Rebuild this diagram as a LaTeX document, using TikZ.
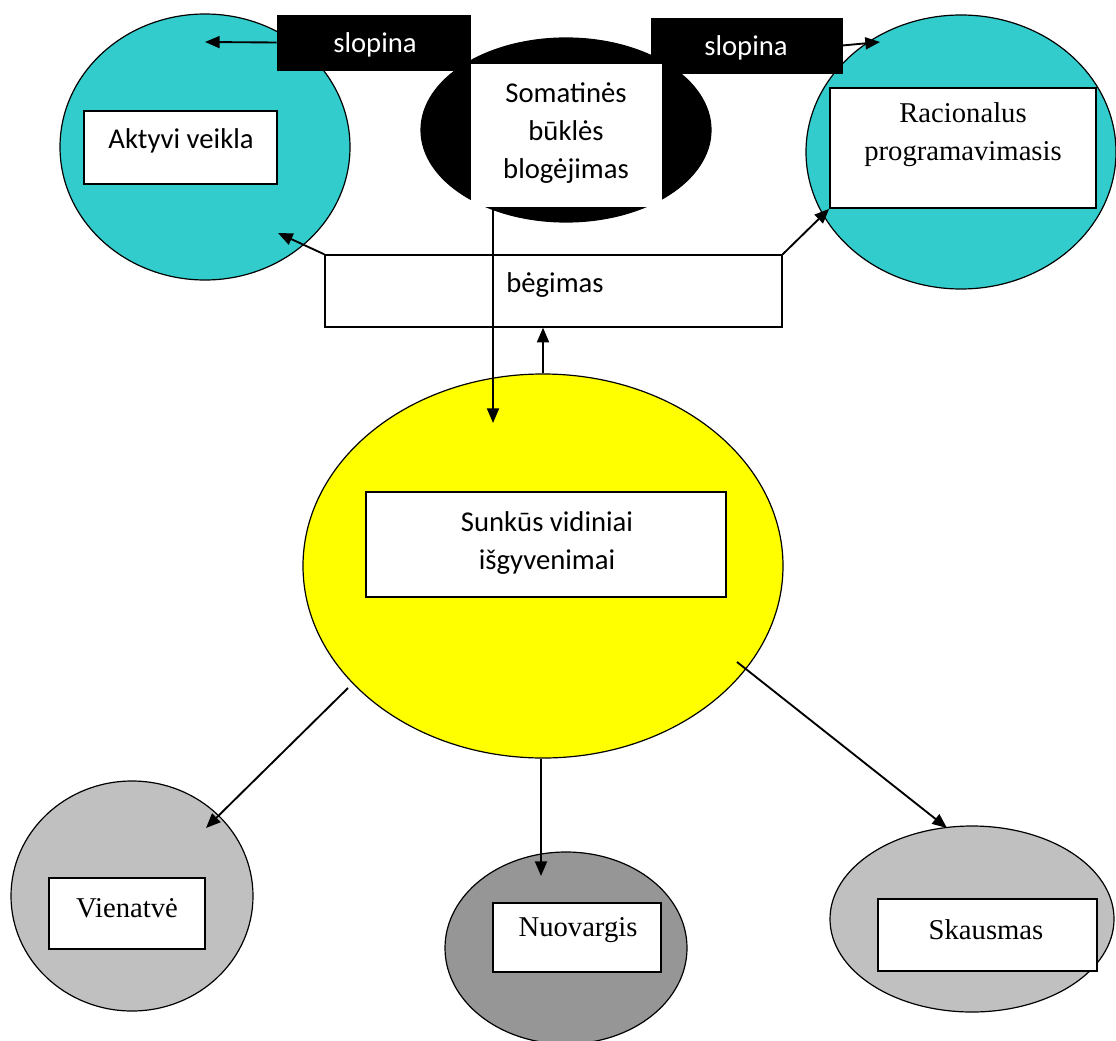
\documentclass[tikz,border=0pt]{standalone}
\usepackage{fontspec}
\setmainfont{Liberation Serif}
\newfontfamily\calib{Carlito}
\usetikzlibrary{arrows.meta,shapes.geometric}
\definecolor{cyanf}{HTML}{33CCCC}
\definecolor{yelf}{HTML}{FFFF00}
\definecolor{lgray}{HTML}{C0C0C0}
\definecolor{dgray}{HTML}{969696}
\tikzset{
  ell/.style={ellipse, draw=black, line width=0.9pt, inner sep=0pt},
  wbox/.style={rectangle, draw=black, fill=white, line width=1.3pt, inner sep=0pt},
  bbox/.style={rectangle, draw=black, fill=black, inner sep=0pt},
  sanstxt/.style={font=\calib\fontsize{21.5}{28.5}\selectfont, align=center, inner sep=0pt},
  seriftxt/.style={font=\fontsize{21.5}{28.5}\selectfont, align=center, inner sep=0pt},
  arr/.style={line width=1.4pt, -{Triangle[length=11pt,width=9pt]}}
}
\begin{document}
\begin{tikzpicture}[x=0.75pt,y=-0.75pt]
\useasboundingbox (0,0) rectangle (1116,1041);
% ellipses
\node[ell, fill=cyanf, minimum width=217.5pt, minimum height=199.5pt] (cl) at (205,147) {};
\node[ell, fill=black, minimum width=217.5pt, minimum height=138pt] (bk) at (566,130) {};
\node[ell, fill=cyanf, minimum width=232.5pt, minimum height=205.5pt] (cr) at (961,152) {};
\node[ell, fill=yelf, minimum width=360pt, minimum height=288pt] (yel) at (543,566) {};
\node[ell, fill=lgray, minimum width=181.5pt, minimum height=172.5pt] (ev) at (132,896) {};
\node[ell, fill=dgray, minimum width=181.5pt, minimum height=144pt] (en) at (566,948) {};
\node[ell, fill=lgray, minimum width=213pt, minimum height=139.5pt] (es) at (972,919) {};
% black label boxes
\node[bbox, minimum width=144.75pt, minimum height=41.25pt] (slopL) at (373.5,42.5) {};
\node[sanstxt, text=white] (slopLt) at (375,45) {slopina};
\node[bbox, minimum width=143.25pt, minimum height=41.25pt] (slopR) at (746.5,45.5) {};
\node[sanstxt, text=white] (slopRt) at (746,48) {slopina};
% white boxes
\node[wbox, line width=0pt, draw=white, minimum width=142.5pt, minimum height=106.5pt] (som) at (566,136) {};
\node[sanstxt] (somt) at (566,133) {Somatinės\\būklės\\blogėjimas};
\node[wbox, minimum width=144.75pt, minimum height=54.75pt] (akt) at (180.5,147.5) {};
\node[sanstxt] (aktt) at (181,141) {Aktyvi veikla};
\node[wbox, minimum width=199.5pt, minimum height=90pt] (rac) at (963,148) {};
\node[seriftxt] (ract) at (963,135) {Racionalus\\programavimasis};
\node[wbox, line width=1pt, minimum width=342.75pt, minimum height=54pt] (beg) at (553.5,291) {};
\node[sanstxt] (begt) at (555,285) {bėgimas};
\node[wbox, minimum width=270pt, minimum height=78.75pt] (sun) at (546,544.5) {};
\node[sanstxt] (sunt) at (547,543) {Sunkūs vidiniai\\išgyvenimai};
\node[wbox, minimum width=117pt, minimum height=53.25pt] (vien) at (127,913.5) {};
\node[seriftxt] (vient) at (127,908) {Vienatvė};
\node[wbox, minimum width=126pt, minimum height=51.75pt] (nuo) at (577,937.5) {};
\node[seriftxt] (nuot) at (578,930) {Nuovargis};
\node[wbox, minimum width=164.25pt, minimum height=54pt] (ska) at (987.5,935) {};
\node[seriftxt] (skat) at (986,930) {Skausmas};
% coordinates
\coordinate (aL) at (205,42);
\coordinate (aR) at (880,42);
\coordinate (aAk) at (278,233);
\coordinate (s1) at (493,207);
\coordinate (s2) at (493,423);
\coordinate (y1) at (348,688);
\coordinate (v1) at (206,828);
\coordinate (n1) at (541,876);
\coordinate (y3) at (737,662);
\coordinate (k1) at (947,828);
% connectors
\draw[arr] (slopL.west) -- (aL);
\draw[arr] (slopR.east) -- (aR);
\draw[arr] (beg.north west) -- (aAk);
\draw[arr] (beg.north east) -- (rac.south west);
\draw[arr] (yel.north) -- (yel.north |- beg.south);
\draw[arr] (s1) -- (s2);
\draw[arr] (y1) -- (v1);
\draw[arr] (yel.south -| n1) -- (n1);
\draw[arr] (y3) -- (k1);
\end{tikzpicture}
\end{document}
